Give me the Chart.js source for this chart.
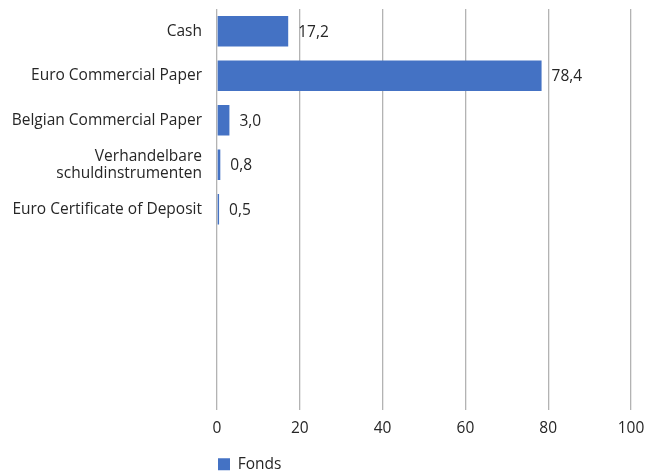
<!DOCTYPE html>
<html>
<head>
<meta charset="utf-8">
<script src="https://cdn.jsdelivr.net/npm/chart.js@4/dist/chart.umd.min.js"></script>
<style>
  html, body { margin: 0; padding: 0; background: #fff; }
  #wrap { width: 646px; height: 475px; }
</style>
</head>
<body>
<div id="wrap"><canvas id="chart"></canvas></div>
<script>
// categorieën (lege rijen onderaan houden de schaal zoals in het rapport)
const categories = [
  'Cash',
  'Euro Commercial Paper',
  'Belgian Commercial Paper',
  ['Verhandelbare', 'schuldinstrumenten'],
  'Euro Certificate of Deposit',
  '', '', '', ''
];
const fondsValues = [17.2, 78.4, 3.0, 0.8, 0.5, null, null, null, null];
const xTicks = [0, 20, 40, 60, 80, 100];

const barColor = '#4472C4';
const textColor = '#262626';
const fontFamily = "'Open Sans', 'Noto Sans', sans-serif";
const fontSize = 15.5;

// waarde naast elke balk, met komma als decimaalteken
const valueLabels = {
  id: 'valueLabels',
  afterDatasetsDraw(chart) {
    const ctx = chart.ctx;
    const meta = chart.getDatasetMeta(0);
    ctx.save();
    ctx.font = fontSize + 'px ' + fontFamily;
    ctx.fillStyle = textColor;
    ctx.textAlign = 'left';
    ctx.textBaseline = 'middle';
    meta.data.forEach((bar, i) => {
      const v = fondsValues[i];
      if (v === null) return;
      ctx.fillText(v.toFixed(1).replace('.', ','), bar.x + 10, bar.y + 1);
    });
    ctx.restore();
  }
};

// legende links uitlijnen met de plotzone en iets lager zetten
const legendAtPlot = {
  id: 'legendAtPlot',
  afterLayout(chart) {
    const lg = chart.legend;
    const dx = chart.chartArea.left - 2;
    lg.left += dx;
    lg.right += dx;
    lg.top += 7;
    lg.bottom += 7;
  }
};

new Chart(document.getElementById('chart'), {
  type: 'bar',
  data: {
    labels: categories,
    datasets: [{
      label: 'Fonds',
      data: fondsValues,
      backgroundColor: barColor,
      borderWidth: 0,
      categoryPercentage: 0.68,
      barPercentage: 1.0
    }]
  },
  options: {
    indexAxis: 'y',
    responsive: true,
    maintainAspectRatio: false,
    animation: false,
    layout: { padding: 0 },
    scales: {
      x: {
        min: 0,
        max: 100,
        afterBuildTicks(scale) {
          scale.ticks = xTicks.map(v => ({ value: v }));
        },
        grid: { color: '#b3b3b3', lineWidth: 1.3, drawTicks: false },
        border: { display: false },
        ticks: {
          padding: 10,
          color: textColor,
          font: { family: fontFamily, size: fontSize }
        },
        afterFit(scale) {
          scale.height = 37;
          scale.paddingLeft = 0;
          scale.paddingRight = 15;
        }
      },
      y: {
        grid: { display: false },
        border: { display: false },
        ticks: {
          padding: 7,
          color: textColor,
          font: { family: fontFamily, size: fontSize, lineHeight: 1.1 },
          autoSkip: false
        },
        afterFit(scale) {
          scale.width = 217;
          scale.paddingTop = 9;
          scale.paddingBottom = 0;
        }
      }
    },
    plugins: {
      legend: {
        position: 'bottom',
        align: 'start',
        labels: {
          boxWidth: 12,
          boxHeight: 12,
          color: textColor,
          padding: 3,
          font: { family: fontFamily, size: fontSize }
        }
      },
      tooltip: { enabled: false }
    }
  },
  plugins: [valueLabels, legendAtPlot]
});
</script>
</body>
</html>
